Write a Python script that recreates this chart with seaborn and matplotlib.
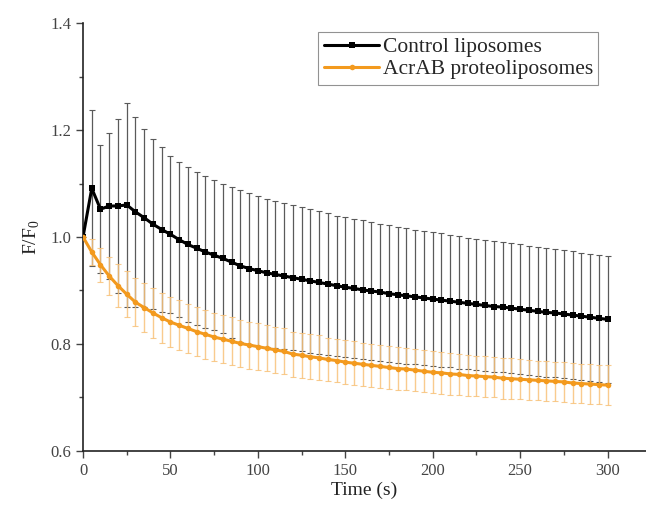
import numpy as np
import pandas as pd
import seaborn as sb
from matplotlib import pyplot as plt
from matplotlib.ticker import MultipleLocator

# ---------------- data ----------------
time_s = list(range(0, 305, 5))

control_mean = [1.000, 1.091, 1.052, 1.058, 1.058, 1.060, 1.047, 1.036, 1.024, 1.014,
                1.005, 0.995, 0.986, 0.979, 0.972, 0.966, 0.960, 0.953, 0.946, 0.941,
                0.937, 0.933, 0.930, 0.927, 0.924, 0.921, 0.918, 0.915, 0.912, 0.909,
                0.906, 0.904, 0.901, 0.899, 0.897, 0.894, 0.892, 0.890, 0.888, 0.886,
                0.884, 0.882, 0.880, 0.878, 0.876, 0.874, 0.872, 0.870, 0.869, 0.867,
                0.865, 0.863, 0.861, 0.859, 0.858, 0.856, 0.854, 0.852, 0.850, 0.848,
                0.846]
control_sd = [0.000, 0.146, 0.120, 0.136, 0.162, 0.190, 0.177, 0.166, 0.159, 0.154,
              0.147, 0.145, 0.144, 0.143, 0.142, 0.140, 0.140, 0.141, 0.142, 0.141,
              0.140, 0.139, 0.138, 0.137, 0.136, 0.135, 0.134, 0.133, 0.132, 0.131,
              0.131, 0.130, 0.130, 0.129, 0.128, 0.128, 0.127, 0.127, 0.126, 0.126,
              0.125, 0.125, 0.124, 0.124, 0.123, 0.123, 0.122, 0.122, 0.122, 0.121,
              0.121, 0.121, 0.120, 0.120, 0.120, 0.120, 0.119, 0.119, 0.119, 0.119,
              0.119]

acrab_mean = [1.000, 0.972, 0.948, 0.927, 0.909, 0.893, 0.878, 0.868, 0.858, 0.849,
              0.841, 0.835, 0.829, 0.823, 0.818, 0.813, 0.809, 0.805, 0.801, 0.798,
              0.795, 0.792, 0.789, 0.786, 0.781, 0.779, 0.776, 0.774, 0.771, 0.769,
              0.766, 0.764, 0.762, 0.760, 0.758, 0.756, 0.754, 0.753, 0.751, 0.749,
              0.747, 0.746, 0.744, 0.743, 0.741, 0.740, 0.739, 0.738, 0.736, 0.735,
              0.734, 0.733, 0.732, 0.731, 0.730, 0.729, 0.727, 0.726, 0.725, 0.724,
              0.723]
acrab_sd = [0.000, 0.025, 0.032, 0.036, 0.040, 0.043, 0.045, 0.046, 0.047, 0.047,
            0.047, 0.047, 0.046, 0.046, 0.046, 0.045, 0.045, 0.045, 0.044, 0.044,
            0.044, 0.043, 0.043, 0.043, 0.042, 0.042, 0.042, 0.042, 0.041, 0.041,
            0.041, 0.041, 0.040, 0.040, 0.040, 0.040, 0.040, 0.039, 0.039, 0.039,
            0.039, 0.039, 0.039, 0.038, 0.038, 0.038, 0.038, 0.038, 0.038, 0.038,
            0.037, 0.037, 0.037, 0.037, 0.037, 0.037, 0.037, 0.037, 0.037, 0.037,
            0.037]

series_names = ["Control liposomes", "AcrAB proteoliposomes"]
series_colors = ["#000000", "#f39a1e"]

df = pd.DataFrame({
    "Time (s)": time_s * 2,
    "F/F0": control_mean + acrab_mean,
    "sd": control_sd + acrab_sd,
    "series": [series_names[0]] * len(time_s) + [series_names[1]] * len(time_s),
})

# ---------------- plot ----------------
sb.set_style("ticks")
plt.rcParams['font.family'] = ['Liberation Serif', 'DejaVu Serif']
plt.rcParams['mathtext.fontset'] = 'custom'
plt.rcParams['mathtext.rm'] = 'Liberation Serif'

fig = plt.figure(figsize=(6.46, 5.13), dpi=100)
ax = fig.add_axes([0.1285, 0.121, 0.8715, 0.834])

# error bars first, lines on top
ax.errorbar(time_s, control_mean, yerr=control_sd, fmt='none', ecolor='#5a5a5a',
            elinewidth=0.9, capsize=2.5, capthick=0.8, zorder=1)
ax.errorbar(time_s, acrab_mean, yerr=acrab_sd, fmt='none', ecolor='#f8c27a',
            elinewidth=1.0, capsize=2.5, capthick=0.8, alpha=0.85, zorder=2)

sb.lineplot(data=df, x="Time (s)", y="F/F0", hue="series", style="series",
            palette=dict(zip(series_names, series_colors)),
            markers={series_names[0]: 's', series_names[1]: 'o'}, dashes=False,
            markersize=4, markeredgewidth=0, linewidth=2.2, ax=ax, zorder=3,
            legend=True)

ax.set_xlim(0, 322)
ax.set_ylim(0.6, 1.4)
ax.xaxis.set_major_locator(MultipleLocator(50))
ax.xaxis.set_minor_locator(MultipleLocator(25))
ax.yaxis.set_major_locator(MultipleLocator(0.2))
ax.yaxis.set_minor_locator(MultipleLocator(0.1))
ax.yaxis.set_major_formatter(plt.FormatStrFormatter('%.1f'))
ax.tick_params(which='major', direction='out', length=5, width=1, labelsize=12, colors='#444444')
ax.tick_params(which='minor', direction='out', length=3, width=1, colors='#444444')

ax.set_xlabel("Time (s)", fontsize=14, color='#222222', labelpad=2)
ax.set_ylabel(r"F/F$_\mathrm{0}$", fontsize=14, color='#222222', labelpad=6)

for side in ['top', 'right']:
    ax.spines[side].set_visible(False)
for side in ['left', 'bottom']:
    ax.spines[side].set_linewidth(1.2)
    ax.spines[side].set_color('#222222')

leg = ax.legend(loc='upper left', bbox_to_anchor=(0.41, 0.99), fontsize=15.5,
                frameon=True, fancybox=False, edgecolor='#777777',
                handlelength=2.6, handletextpad=0.15, borderpad=0.25, labelspacing=0.1,
                borderaxespad=0.2)
leg.get_frame().set_linewidth(0.8)

plt.savefig("out.png", dpi=100)
